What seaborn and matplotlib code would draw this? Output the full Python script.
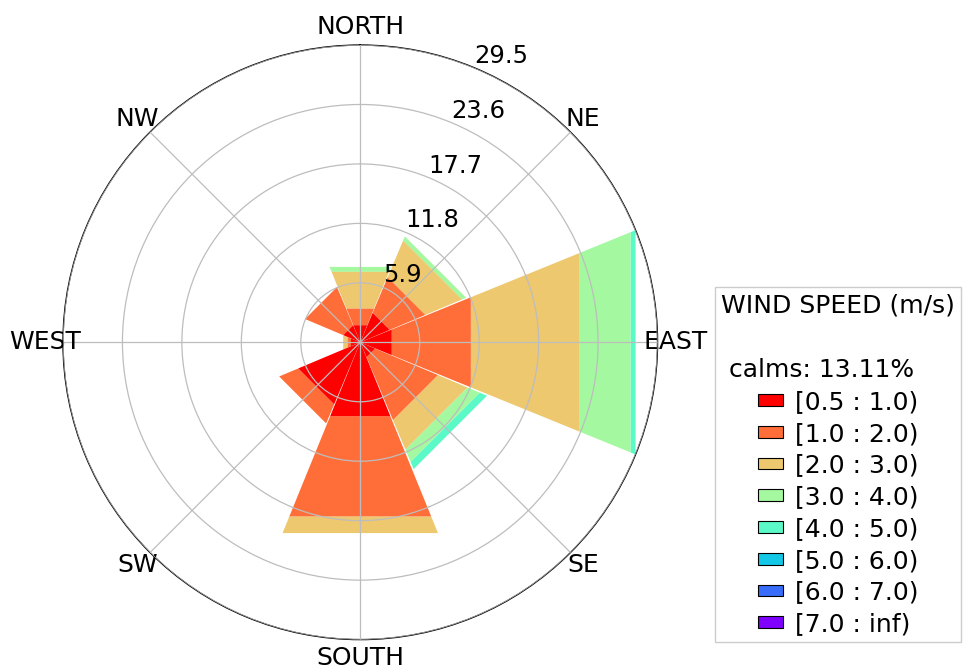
import numpy as np
import matplotlib
matplotlib.use("Agg")
import matplotlib.pyplot as plt
from matplotlib.path import Path
from matplotlib.patches import Rectangle
import seaborn as sns

# ---------------- data ----------------
directions = ["NORTH", "NE", "EAST", "SE", "SOUTH", "SW", "WEST", "NW"]
dir_deg = [0, 45, 90, 135, 180, 225, 270, 315]
speed_bins = ["[0.5 : 1.0)", "[1.0 : 2.0)", "[2.0 : 3.0)", "[3.0 : 4.0)",
              "[4.0 : 5.0)", "[5.0 : 6.0)", "[6.0 : 7.0)", "[7.0 : inf)"]
# frequency (%) per speed class, ordered N, NE, E, SE, S, SW, W, NW
freq_05_10 = [1.83, 3.17, 3.37, 1.60, 7.91, 6.68, 1.00, 1.83]
freq_10_20 = [1.78, 3.83, 8.48, 6.77, 10.74, 2.05, 0.35, 4.12]
freq_20_30 = [3.94, 3.95, 11.66, 3.17, 1.79, 0.00, 0.48, 0.00]
freq_30_40 = [0.53, 0.45, 5.45, 1.33, 0.00, 0.00, 0.00, 0.00]
freq_40_50 = [0.00, 0.00, 0.54, 0.78, 0.00, 0.00, 0.00, 0.00]
freq_50_60 = [0.00, 0.00, 0.00, 0.00, 0.00, 0.00, 0.00, 0.00]
freq_60_70 = [0.00, 0.00, 0.00, 0.00, 0.00, 0.00, 0.00, 0.00]
freq_70_inf = [0.00, 0.00, 0.00, 0.00, 0.00, 0.00, 0.00, 0.00]
calms_pct = 13.11
r_ticks = [5.9, 11.8, 17.7, 23.6, 29.5]
r_tick_labels = ["5.9", "11.8", "17.7", "23.6", "29.5"]
legend_title = "WIND SPEED (m/s)"

series = [freq_05_10, freq_10_20, freq_20_30, freq_30_40,
          freq_40_50, freq_50_60, freq_60_70, freq_70_inf]

# ---------------- style ----------------
sns.set_theme(style="white")
plt.rcParams["font.family"] = ["DejaVu Sans"]
plt.rcParams["text.color"] = "black"
plt.rcParams["xtick.color"] = "black"
plt.rcParams["ytick.color"] = "black"
plt.rcParams["axes.labelcolor"] = "black"

fig = plt.figure(figsize=(9.63, 6.65), dpi=100)
ax = fig.add_axes([0.0654, 0.0382, 0.6174, 0.8941], projection="polar")
ax.set_theta_zero_location("N")
ax.set_theta_direction(-1)
ax.set_axisbelow(False)

colors = plt.get_cmap("rainbow_r")(np.linspace(0, 1, len(series)))
theta = np.deg2rad(dir_deg)
width = 2 * np.pi / len(dir_deg) * 0.985
bottom = np.zeros(len(dir_deg))
for i, vals in enumerate(series):
    vals = np.asarray(vals, dtype=float)
    ax.bar(theta, vals, width=width, bottom=bottom, color=colors[i],
           edgecolor="none", linewidth=0, align="center",
           zorder=1 + (len(series) - i) * 0.01)
    bottom = bottom + vals
# straight-edged sectors (like windrose)
Path.unit_rectangle()._interpolation_steps = 1

ax.set_ylim(0, r_ticks[-1])
ax.set_rgrids(r_ticks, labels=r_tick_labels, angle=22.5)
ax.set_thetagrids(dir_deg, labels=directions)
ax.grid(True, color="#bdbdbd", linewidth=0.9)
ax.spines["polar"].set_color("black")
ax.spines["polar"].set_linewidth(1.0)
ax.tick_params(axis="x", labelsize=18, pad=0)
ax.tick_params(axis="y", labelsize=17.5)

handles = [Rectangle((0, 0), 0.2, 0.2, facecolor=colors[i], edgecolor="black",
                     linewidth=0.8) for i in range(len(series))]
leg = fig.legend(handles, speed_bins, loc="lower left",
                 bbox_to_anchor=(0.7425, 0.034), borderaxespad=0,
                 title=f"{legend_title}\n\n calms: {calms_pct:.2f}%",
                 fontsize=18, title_fontsize=18, handlelength=1.0,
                 handleheight=0.35, handletextpad=0.45, labelspacing=0.31,
                 borderpad=0.25, frameon=True, fancybox=False,
                 edgecolor="#cccccc", framealpha=1)
leg.get_title().set_multialignment("left")
leg.get_title().set_linespacing(1.45)

fig.savefig("out.png", dpi=100)
